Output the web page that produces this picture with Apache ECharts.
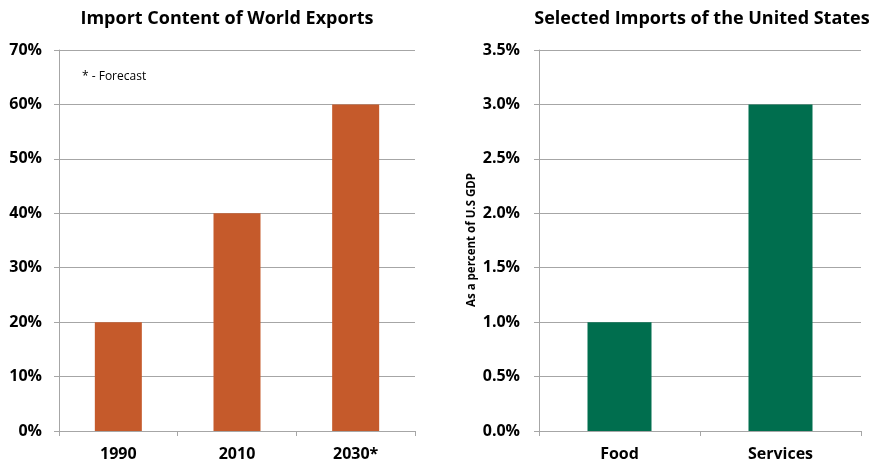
<!DOCTYPE html>
<html>
<head>
<meta charset="utf-8">
<script src="https://cdn.jsdelivr.net/npm/echarts@6/dist/echarts.min.js"></script>
<style>
html, body { margin: 0; padding: 0; background: #fff; }
#chart { width: 871px; height: 464px; }
</style>
</head>
<body>
<div id="chart"></div>
<script>
var exportYears = ['1990', '2010', '2030*'];
var importContent = [20, 40, 60];
var importCategories = ['Food', 'Services'];
var importShare = [1.0, 3.0];

var fontFamily = '"Open Sans", "Liberation Sans", sans-serif';
var gridColor = '#a6a6a6';

var labelStyle = {
    color: '#000',
    fontWeight: 'bold',
    fontSize: 16,
    fontFamily: fontFamily
};

var opts = {
    animation: false,
    title: [
        {
            text: 'Import Content of World Exports',
            left: 222,
            top: 5,
            textAlign: 'center',
            textStyle: { fontSize: 18, fontWeight: 'bold', fontFamily: fontFamily, color: '#000' }
        },
        {
            text: 'Selected Imports of the United States',
            left: 697,
            top: 5,
            textAlign: 'center',
            textStyle: { fontSize: 18, fontWeight: 'bold', fontFamily: fontFamily, color: '#000' }
        }
    ],
    graphic: [
        {
            type: 'text',
            left: 82,
            top: 71,
            style: { text: '* - Forecast', fontSize: 12, fontFamily: fontFamily, fill: '#000' }
        },
        {
            type: 'text',
            x: 472,
            y: 240,
            rotation: Math.PI / 2,
            style: {
                text: 'As a percent of U.S GDP',
                fontSize: 11.5,
                fontWeight: 'bold',
                fontFamily: fontFamily,
                fill: '#000',
                align: 'center',
                verticalAlign: 'middle'
            }
        }
    ],
    grid: [
        { left: 59, top: 50, width: 356, height: 381 },
        { left: 539, top: 50, width: 322, height: 381 }
    ],
    xAxis: [
        {
            type: 'category',
            gridIndex: 0,
            data: exportYears,
            axisLine: { lineStyle: { color: gridColor } },
            axisTick: { show: true, length: 5, lineStyle: { color: gridColor } },
            axisLabel: Object.assign({ margin: 15 }, labelStyle)
        },
        {
            type: 'category',
            gridIndex: 1,
            data: importCategories,
            axisLine: { lineStyle: { color: gridColor } },
            axisTick: { show: true, length: 5, lineStyle: { color: gridColor } },
            axisLabel: Object.assign({ margin: 15 }, labelStyle)
        }
    ],
    yAxis: [
        {
            type: 'value',
            gridIndex: 0,
            min: 0,
            max: 70,
            interval: 10,
            axisLine: { show: true, lineStyle: { color: gridColor } },
            axisTick: { show: true, length: 5, lineStyle: { color: gridColor } },
            splitLine: { lineStyle: { color: gridColor } },
            axisLabel: Object.assign({ margin: 17, formatter: '{value}%' }, labelStyle)
        },
        {
            type: 'value',
            gridIndex: 1,
            min: 0,
            max: 3.5,
            interval: 0.5,
            axisLine: { show: true, lineStyle: { color: gridColor } },
            axisTick: { show: true, length: 5, lineStyle: { color: gridColor } },
            splitLine: { lineStyle: { color: gridColor } },
            axisLabel: Object.assign({
                margin: 19,
                formatter: function (v) { return v.toFixed(1) + '%'; }
            }, labelStyle)
        }
    ],
    series: [
        {
            type: 'bar',
            xAxisIndex: 0,
            yAxisIndex: 0,
            data: importContent,
            barWidth: 47,
            itemStyle: { color: '#C55A2B' }
        },
        {
            type: 'bar',
            xAxisIndex: 1,
            yAxisIndex: 1,
            data: importShare,
            barWidth: 64,
            itemStyle: { color: '#006E4E' }
        }
    ]
};

echarts.init(document.getElementById('chart')).setOption(opts);
</script>
</body>
</html>
